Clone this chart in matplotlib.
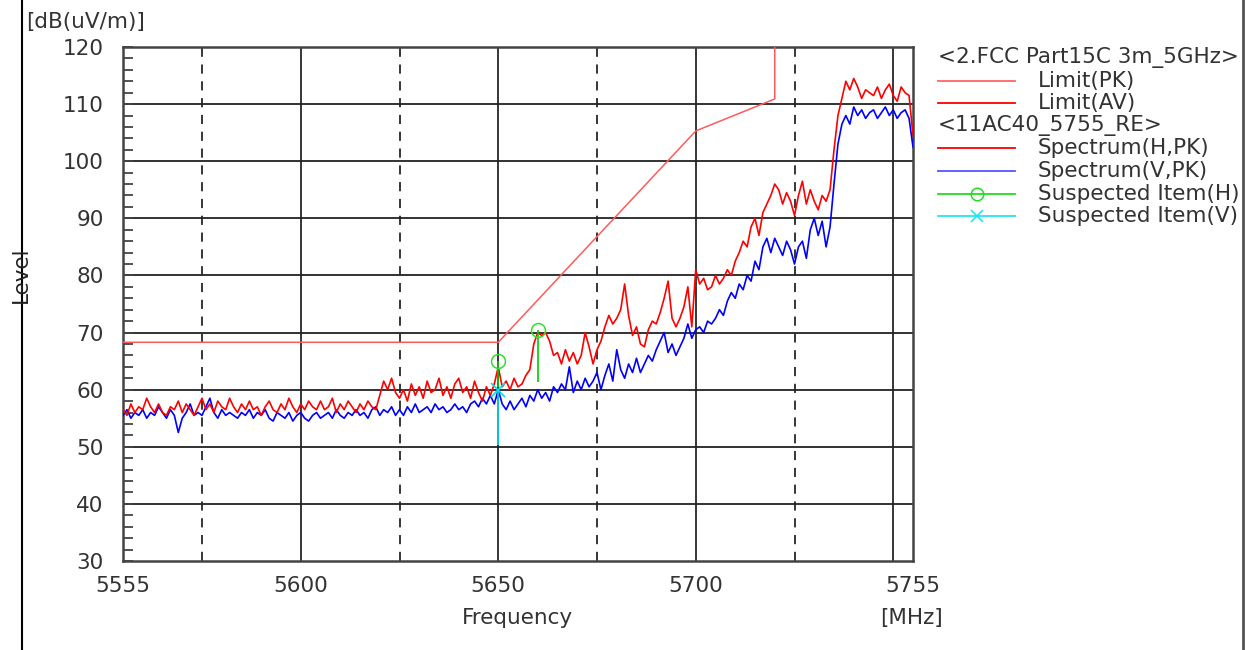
import matplotlib.pyplot as plt
import numpy as np
from matplotlib.lines import Line2D

# spectrum traces, 1 MHz steps from 5555 to 5755 MHz
freq = np.arange(5555, 5756, 1)

h_pk = [
    56.5, 55.5, 57.5, 56.0, 57.0, 56.5, 58.5, 57.0, 56.0, 57.5,
    56.0, 55.5, 57.0, 56.5, 58.0, 56.0, 57.5, 56.5, 55.5, 57.0,
    58.5, 56.5, 57.5, 56.0, 58.0, 57.0, 56.5, 58.5, 57.0, 56.0,
    57.5, 56.5, 58.0, 56.5, 57.0, 55.5, 57.0, 58.0, 56.5, 56.0,
    57.5, 56.5, 58.5, 57.0, 56.0, 57.5, 56.5, 58.0, 57.0, 56.5,
    58.0, 56.5, 57.0, 58.5, 56.0, 57.5, 56.5, 58.0, 57.0, 56.0,
    57.5, 56.5, 58.0, 57.0, 56.5, 59.0, 61.5, 60.0, 62.0, 59.5,
    58.5, 60.0, 58.0, 61.0, 59.0, 60.5, 58.5, 61.5, 59.5, 60.0,
    62.0, 59.0, 60.5, 58.5, 61.0, 62.0, 59.5, 60.5, 58.5, 61.5,
    59.5, 58.0, 60.5, 59.0, 61.0, 64.0, 60.5, 61.5, 60.0, 62.0,
    60.5, 61.0, 62.5, 63.5, 68.0, 70.0, 69.5, 70.0, 68.5, 66.0,
    66.5, 64.5, 67.0, 65.0, 66.5, 64.5, 66.0, 70.0, 67.5, 64.5,
    67.0, 68.5, 71.0, 73.0, 71.5, 72.5, 74.0, 78.5, 73.0, 69.5,
    71.0, 68.0, 67.5, 70.5, 72.0, 71.5, 73.5, 76.0, 79.0, 72.5,
    71.0, 72.5, 74.5, 78.0, 71.0, 81.0, 78.5, 79.5, 77.5, 78.0,
    80.0, 78.5, 79.5, 81.0, 80.0, 82.5, 84.0, 86.0, 85.0, 88.5,
    90.0, 87.0, 91.0, 92.5, 94.0, 96.0, 95.0, 92.5, 94.5, 93.0,
    90.5, 94.0, 96.5, 92.5, 95.0, 93.0, 91.5, 94.0, 93.0, 95.0,
    102.0, 108.0, 111.0, 114.0, 112.5, 114.5, 113.0, 111.0, 112.5, 112.0,
    111.5, 113.0, 111.0, 112.5, 113.5, 111.5, 110.5, 113.0, 112.0, 111.5,
    104.5,
]

v_pk = [
    55.5, 56.5, 55.0, 56.0, 55.5, 56.5, 55.0, 56.0, 55.5, 57.0,
    56.0, 55.0, 56.5, 55.5, 52.5, 55.0, 56.0, 57.5, 55.5, 56.0,
    55.5, 57.0, 58.5, 56.0, 55.0, 56.5, 55.5, 56.0, 55.5, 55.0,
    56.0, 55.5, 56.5, 55.0, 56.0, 55.5, 56.5, 55.0, 54.5, 56.0,
    55.5, 55.0, 56.0, 54.5, 55.5, 56.0, 55.0, 54.5, 55.5, 56.0,
    55.0, 55.5, 56.0, 55.0, 56.5, 55.5, 55.0, 56.0, 55.5, 56.5,
    55.5, 56.0, 55.0, 56.5, 57.0, 55.5, 56.5, 56.0, 57.0, 55.5,
    56.5, 55.5, 57.0, 56.0, 57.5, 56.0, 56.5, 57.0, 56.0, 57.5,
    56.5, 57.0, 56.0, 56.5, 57.5, 56.5, 57.0, 56.0, 57.5, 58.0,
    57.0, 58.5, 57.5, 59.0, 57.5, 60.0, 57.5, 56.5, 58.0, 56.5,
    57.5, 58.5, 57.0, 59.0, 58.0, 60.0, 58.5, 59.5, 58.0, 60.5,
    59.5, 61.0, 60.0, 64.0, 59.5, 61.5, 60.0, 62.0, 60.5, 61.5,
    63.0, 60.0, 62.5, 64.5, 61.5, 67.0, 63.5, 62.0, 64.5, 63.0,
    65.5, 63.0, 64.5, 66.0, 65.0, 67.0, 68.5, 70.0, 66.5, 68.0,
    66.0, 67.5, 69.0, 71.5, 69.0, 70.5, 71.0, 70.0, 72.0, 71.5,
    72.5, 74.0, 73.0, 75.5, 77.0, 76.0, 78.5, 77.5, 80.0, 79.0,
    82.5, 81.0, 85.0, 86.5, 84.0, 86.5, 85.0, 83.5, 86.0, 84.5,
    82.0, 85.0, 86.0, 83.0, 88.0, 90.0, 87.0, 89.5, 85.0, 88.5,
    96.0, 103.0, 106.5, 108.0, 106.5, 109.5, 108.0, 109.0, 107.5, 108.5,
    109.0, 107.5, 108.5, 109.5, 108.0, 109.0, 107.5, 108.5, 109.0, 107.5,
    102.5,
]

limit_f = [5555, 5650, 5700, 5720, 5720]
limit_pk = [68.3, 68.3, 105.3, 110.9, 125.0]

susp_h_f = [5650, 5660]
susp_h_top = [65.0, 70.4]
susp_h_bot = [60.5, 61.4]
susp_v_f = [5650]
susp_v_top = [59.9]
susp_v_bot = [50.3]

txt = '#333333'
fs = 15.5
plt.rcParams['font.family'] = 'DejaVu Sans'

fig = plt.figure(figsize=(12.47, 6.5), dpi=100)
ax = fig.add_axes([123 / 1247, 1 - 561 / 650, 790 / 1247, 514 / 650])

# grid
for x in [5600, 5650, 5700, 5750]:
    ax.axvline(x, color='black', lw=1.1, zorder=1)
for x in [5575, 5625, 5675, 5725]:
    ax.axvline(x, color='black', lw=1.1, ls=(0, (6, 5)), zorder=1)
for y in range(40, 120, 10):
    ax.axhline(y, color='#222222', lw=1.3, zorder=1)

ax.plot(limit_f, limit_pk, color='#ff5a5a', lw=1.1, zorder=3)
ax.plot(freq, h_pk, color='#ff0000', lw=1.2, zorder=4)
ax.plot(freq, v_pk, color='#0000ff', lw=1.2, zorder=3)

ax.vlines(susp_h_f, susp_h_bot, susp_h_top, color='#00cc00', lw=1.2, zorder=5)
ax.plot(susp_h_f, susp_h_top, 'o', mfc='none', mec='#33dd33', ms=10, mew=1.1, zorder=6)
ax.vlines(susp_v_f, susp_v_bot, susp_v_top, color='#00e0ee', lw=1.2, zorder=5)
ax.plot(susp_v_f, susp_v_top, 'x', color='#00e0ee', ms=10, mew=1.2, zorder=6)

ax.set_xlim(5555, 5755)
ax.set_ylim(30, 120)
ax.set_xticks([5555, 5600, 5650, 5700, 5755])
ax.set_yticks(range(30, 121, 10))
ax.set_yticks(np.arange(30, 121, 2), minor=True)
ax.tick_params(axis='x', length=0, pad=11, labelsize=fs, labelcolor=txt)
ax.tick_params(axis='y', which='both', direction='in', length=7, width=1.3,
               color='#444444', pad=14, labelsize=fs, labelcolor=txt)
for s in ax.spines.values():
    s.set_color('#444444')
    s.set_linewidth(1.8)

fig.text(517 / 1247, 1 - 618 / 650, 'Frequency', ha='center', va='center',
         fontsize=fs, color=txt)
fig.text(912 / 1247, 1 - 618 / 650, '[MHz]', ha='center', va='center',
         fontsize=fs, color=txt)
fig.text(86 / 1247, 1 - 22 / 650, '[dB(uV/m)]', ha='center', va='center',
         fontsize=fs, color=txt)
fig.text(21 / 1247, 1 - 275 / 650, 'Level', ha='center', va='center',
         fontsize=fs, color='#222222', rotation=90)

# frame lines of the report page
fig.add_artist(Line2D([22 / 1247] * 2, [0, 1], color='black', lw=1.5))
fig.add_artist(Line2D([1243 / 1247] * 2, [0, 1], color='#555555', lw=2))

# legend drawn by hand
rows = [
    ('<2.FCC Part15C 3m_5GHz>', None, None),
    ('Limit(PK)', '#ff6464', None),
    ('Limit(AV)', '#ff0000', None),
    ('<11AC40_5755_RE>', None, None),
    ('Spectrum(H,PK)', '#ff0000', None),
    ('Spectrum(V,PK)', '#5555ff', None),
    ('Suspected Item(H)', '#22dd22', 'o'),
    ('Suspected Item(V)', '#22e5f0', 'x'),
]
for i, (label, col, mk) in enumerate(rows):
    y = 1 - (58 + i * 22.6) / 650
    if col is None:
        fig.text(938 / 1247, y, label, ha='left', va='center', fontsize=fs, color=txt)
        continue
    fig.add_artist(Line2D([938 / 1247, 1015 / 1247], [y, y], color=col, lw=1.3))
    if mk == 'o':
        fig.add_artist(Line2D([977 / 1247], [y], marker='o', mfc='none', mec=col,
                              ms=9, mew=1.1))
    elif mk == 'x':
        fig.add_artist(Line2D([977 / 1247], [y], marker='x', color=col,
                              ms=9, mew=1.2))
    fig.text(1038 / 1247, y, label, ha='left', va='center', fontsize=fs, color=txt)

fig.savefig('out.png', dpi=100)
